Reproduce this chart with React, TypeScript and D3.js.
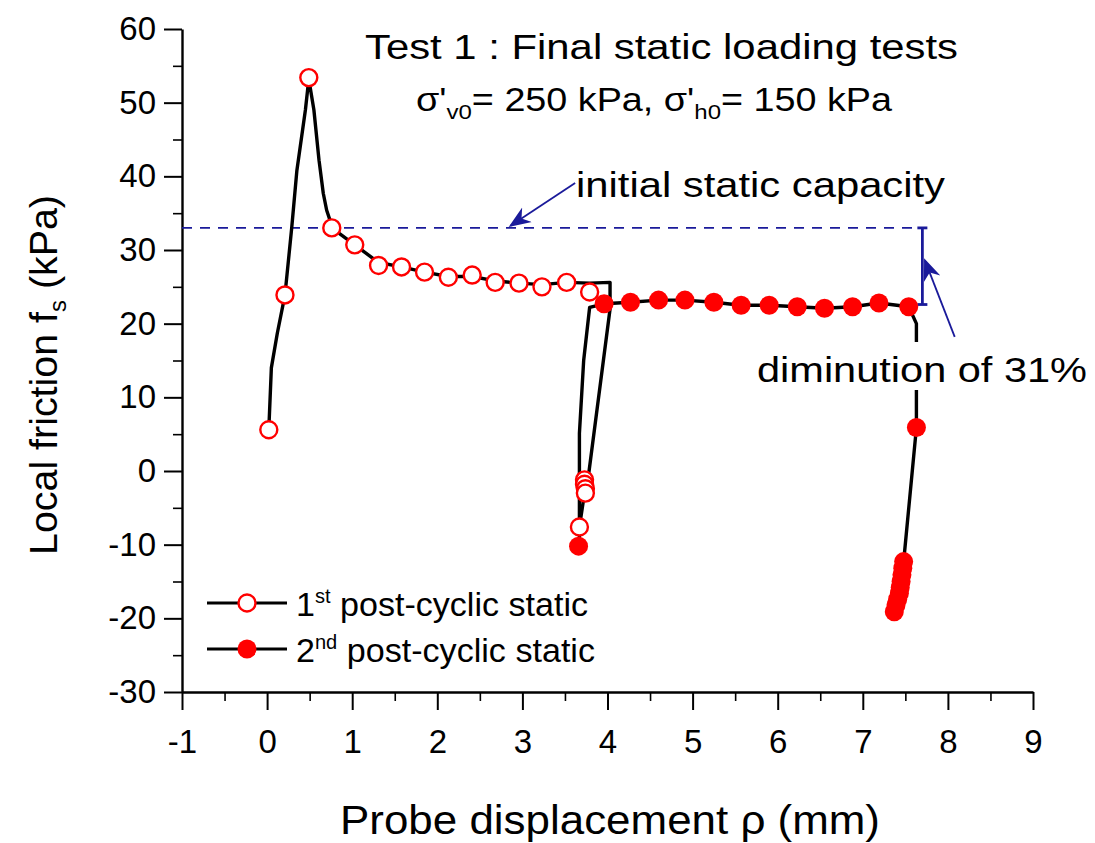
import * as d3 from 'd3';
import { useRef, useEffect } from 'react';

// 1st post-cyclic static loading (open circles)
const s1Line: [number, number][] = [
    [0.02, 5.6], [0.05, 14], [0.12, 18.7], [0.21, 23.9], [0.29, 33.1], [0.35, 40.8], [0.45, 49],
    [0.49, 53.2], [0.55, 49], [0.61, 42.2], [0.66, 37.7], [0.7, 35.4], [0.74, 34], [0.76, 33],
    [1.03, 30.7], [1.31, 28.3], [1.58, 27.7], [1.85, 27.0], [2.13, 26.4], [2.41, 26.4],
    [2.68, 25.8], [2.96, 25.5], [3.23, 25.3], [3.52, 25.6], [3.79, 25.5], [4.03, 25.6],
    [4.03, 22], [3.78, -0.3], [3.73, -1.2], [3.73, -3.0], [3.67, -7.6],
];
const s1Markers: [number, number][] = [
    [0.02, 5.6], [0.21, 23.9], [0.49, 53.4], [0.76, 33.0], [1.03, 30.7], [1.31, 27.9],
    [1.58, 27.7], [1.85, 27.0], [2.13, 26.3], [2.41, 26.6], [2.68, 25.6], [2.96, 25.5],
    [3.23, 25.0], [3.52, 25.6], [3.79, 24.3], [3.73, -1.2], [3.73, -1.8], [3.74, -2.4],
    [3.74, -3.0], [3.67, -7.6],
];

// 2nd post-cyclic static loading (filled circles)
const s2Line: [number, number][] = [
    [3.66, -10.2], [3.67, -9], [3.67, 5.1], [3.72, 15], [3.79, 22.2], [3.96, 22.7],
    [4.27, 22.9], [4.6, 23.2], [4.91, 23.2], [5.25, 22.9], [5.57, 22.5], [5.9, 22.5],
    [6.23, 22.3], [6.55, 22.1], [6.88, 22.3], [7.19, 22.8], [7.54, 22.3], [7.63, 20],
    [7.63, 5.9], [7.49, -11.1], [7.48, -12.3], [7.37, -19.1],
];
const s2Markers: [number, number][] = [
    [3.66, -10.2], [3.96, 22.7], [4.27, 22.9], [4.6, 23.2], [4.91, 23.2], [5.25, 22.9],
    [5.57, 22.5], [5.9, 22.5], [6.23, 22.3], [6.55, 22.1], [6.88, 22.3], [7.19, 22.8],
    [7.54, 22.3], [7.63, 5.9], [7.48, -12.3], [7.47, -13.2], [7.46, -14.1], [7.45, -15.0],
    [7.44, -15.8], [7.43, -16.6], [7.41, -17.4], [7.39, -18.2], [7.37, -19.1],
];

const xTicks = [-1, 0, 1, 2, 3, 4, 5, 6, 7, 8, 9];
const yTicks = [-30, -20, -10, 0, 10, 20, 30, 40, 50, 60];

const initialCapacity = 33;
const finalCapacity = 22.6;
const diminutionX = 7.7;

const FONT = '"Liberation Sans", Arial, sans-serif';
const NAVY = '#1a1a9a';

const App = () => {
    const svgRef = useRef<SVGSVGElement | null>(null);

    useEffect(() => {
        const svg = d3.select(svgRef.current);
        svg.selectAll('*').remove();

        const x = d3.scaleLinear().domain([-1, 9]).range([182, 1033]);
        const y = d3.scaleLinear().domain([-30, 60]).range([692, 29]);

        svg.append('rect').attr('width', 1095).attr('height', 843).attr('fill', 'white');

        // minor ticks
        svg.append('g')
            .attr('transform', `translate(0,${y(-30)})`)
            .call(d3.axisBottom(x).tickValues(d3.range(-0.5, 9, 1)).tickSize(9).tickFormat(() => ''))
            .call(g => g.select('.domain').remove())
            .call(g => g.selectAll('line').attr('stroke-width', 1.6));
        svg.append('g')
            .attr('transform', `translate(${x(-1)},0)`)
            .call(d3.axisLeft(y).tickValues(d3.range(-25, 60, 10)).tickSize(9).tickFormat(() => ''))
            .call(g => g.select('.domain').remove())
            .call(g => g.selectAll('line').attr('stroke-width', 1.6));

        // major ticks
        const xAxis = svg.append('g')
            .attr('transform', `translate(0,${y(-30)})`)
            .call(d3.axisBottom(x).tickValues(xTicks).tickSize(18).tickSizeOuter(0).tickPadding(20).tickFormat(d => String(d)));
        const yAxis = svg.append('g')
            .attr('transform', `translate(${x(-1)},0)`)
            .call(d3.axisLeft(y).tickValues(yTicks).tickSize(18).tickSizeOuter(0).tickPadding(8).tickFormat(d => String(d)));

        for (const ax of [xAxis, yAxis]) {
            ax.select('.domain').attr('stroke-width', 2.4);
            ax.selectAll('.tick line').attr('stroke-width', 2);
            ax.selectAll('.tick text')
                .attr('font-family', FONT)
                .attr('font-size', 33)
                .attr('fill', 'black');
        }

        // reference line for initial capacity
        svg.append('line')
            .attr('x1', x(-1)).attr('x2', x(diminutionX))
            .attr('y1', y(initialCapacity)).attr('y2', y(initialCapacity))
            .attr('stroke', NAVY).attr('stroke-width', 1.8).attr('stroke-dasharray', '10,8');

        // vertical bar showing the drop
        const bar = svg.append('g').attr('stroke', NAVY).attr('stroke-width', 2.8);
        bar.append('line').attr('x1', x(diminutionX)).attr('x2', x(diminutionX))
            .attr('y1', y(initialCapacity)).attr('y2', y(finalCapacity));
        for (const v of [initialCapacity, finalCapacity]) {
            bar.append('line').attr('x1', x(diminutionX) - 5).attr('x2', x(diminutionX) + 5)
                .attr('y1', y(v)).attr('y2', y(v));
        }

        // arrows
        svg.append('defs').append('marker')
            .attr('id', 'arrow')
            .attr('viewBox', '0 0 10 10')
            .attr('refX', 9).attr('refY', 5)
            .attr('markerWidth', 22).attr('markerHeight', 22)
            .attr('markerUnits', 'userSpaceOnUse')
            .attr('orient', 'auto')
            .append('path')
            .attr('d', 'M0,1 L10,5 L0,9 L3,5 Z')
            .attr('fill', NAVY);

        const arrows: [number, number, number, number][] = [
            [3.62, 39.1, 2.86, 33.3],
            [8.08, 18.2, 7.73, 28.6],
        ];
        svg.selectAll('line.arrow')
            .data(arrows)
            .enter()
            .append('line')
            .attr('class', 'arrow')
            .attr('x1', d => x(d[0])).attr('y1', d => y(d[1]))
            .attr('x2', d => x(d[2])).attr('y2', d => y(d[3]))
            .attr('stroke', NAVY).attr('stroke-width', 1.8)
            .attr('marker-end', 'url(#arrow)');

        const line = d3.line<[number, number]>().x(d => x(d[0])).y(d => y(d[1]));

        svg.append('path').datum(s2Line).attr('d', line)
            .attr('fill', 'none').attr('stroke', 'black').attr('stroke-width', 3.4).attr('stroke-linejoin', 'round');
        svg.append('path').datum(s1Line).attr('d', line)
            .attr('fill', 'none').attr('stroke', 'black').attr('stroke-width', 3.4).attr('stroke-linejoin', 'round');

        svg.selectAll('circle.s1')
            .data(s1Markers)
            .enter()
            .append('circle')
            .attr('class', 's1')
            .attr('cx', d => x(d[0])).attr('cy', d => y(d[1]))
            .attr('r', 8.5)
            .attr('fill', 'white').attr('stroke', 'red').attr('stroke-width', 2.4);
        svg.selectAll('circle.s2')
            .data(s2Markers)
            .enter()
            .append('circle')
            .attr('class', 's2')
            .attr('cx', d => x(d[0])).attr('cy', d => y(d[1]))
            .attr('r', 9.5)
            .attr('fill', 'red');

        // annotation texts
        svg.append('text')
            .attr('x', 576).attr('y', 197)
            .attr('font-family', FONT).attr('font-size', 35)
            .attr('textLength', 369).attr('lengthAdjust', 'spacingAndGlyphs')
            .text('initial static capacity');

        svg.append('rect').attr('x', 754).attr('y', 342).attr('width', 336).attr('height', 48).attr('fill', 'white');
        svg.append('text')
            .attr('x', 757).attr('y', 382)
            .attr('font-family', FONT).attr('font-size', 35)
            .attr('textLength', 330).attr('lengthAdjust', 'spacingAndGlyphs')
            .text('diminution of 31%');

        // titles
        svg.append('text')
            .attr('x', 365).attr('y', 59)
            .attr('font-family', FONT).attr('font-size', 35)
            .attr('textLength', 593).attr('lengthAdjust', 'spacingAndGlyphs')
            .text('Test 1 : Final static loading tests');

        const sub = svg.append('text')
            .attr('x', 416).attr('y', 111)
            .attr('font-family', FONT).attr('font-size', 33)
            .attr('textLength', 476).attr('lengthAdjust', 'spacingAndGlyphs');
        sub.append('tspan').text("σ'");
        sub.append('tspan').attr('font-size', 21).attr('dy', 8).text('v0');
        sub.append('tspan').attr('dy', -8).text("= 250 kPa, σ'");
        sub.append('tspan').attr('font-size', 21).attr('dy', 8).text('h0');
        sub.append('tspan').attr('dy', -8).text('= 150 kPa');

        // axis titles
        svg.append('text')
            .attr('x', 340).attr('y', 834)
            .attr('font-family', FONT).attr('font-size', 40)
            .attr('textLength', 540).attr('lengthAdjust', 'spacingAndGlyphs')
            .text('Probe displacement ρ (mm)');

        const yt = svg.append('text')
            .attr('transform', 'translate(57,555) rotate(-90)')
            .attr('font-family', FONT).attr('font-size', 38)
            .attr('textLength', 360).attr('lengthAdjust', 'spacingAndGlyphs');
        yt.append('tspan').text('Local friction f');
        yt.append('tspan').attr('font-size', 23).attr('dy', 9).text('s');
        yt.append('tspan').attr('dy', -9).text(' (kPa)');

        // legend
        const legendItems = [
            { sup: 'st', filled: false },
            { sup: 'nd', filled: true },
        ];
        const lg = svg.append('g');
        legendItems.forEach((item, i) => {
            const ly = 603 + i * 46;
            lg.append('line').attr('x1', 207).attr('x2', 287).attr('y1', ly).attr('y2', ly)
                .attr('stroke', 'black').attr('stroke-width', 3);
            lg.append('circle').attr('cx', 247).attr('cy', ly).attr('r', item.filled ? 9.5 : 8.5)
                .attr('fill', item.filled ? 'red' : 'white')
                .attr('stroke', item.filled ? 'none' : 'red').attr('stroke-width', 2.4);
            const t = lg.append('text').attr('x', 296).attr('y', ly + 13)
                .attr('font-family', FONT).attr('font-size', 34)
                .attr('textLength', i === 0 ? 292 : 299).attr('lengthAdjust', 'spacingAndGlyphs');
            t.append('tspan').text(i === 0 ? '1' : '2');
            t.append('tspan').attr('font-size', 20).attr('dy', -13).text(item.sup);
            t.append('tspan').attr('dy', 13).text(' post-cyclic static');
        });
    }, []);

    return (
        <svg ref={svgRef} width={1095} height={843} style={{ position: 'absolute', left: 0, top: 0 }}></svg>
    );
};

export default App;
